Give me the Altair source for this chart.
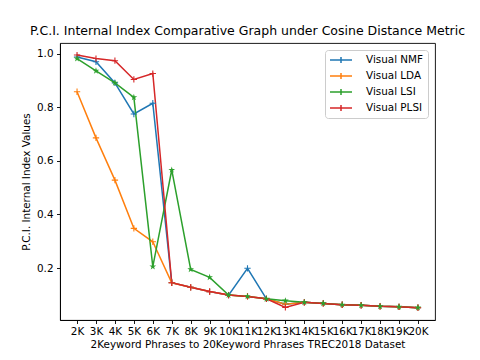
import altair as alt
import pandas as pd

categories = ["2K", "3K", "4K", "5K", "6K", "7K", "8K", "9K", "10K", "11K",
              "12K", "13K", "14K", "15K", "16K", "17K", "18K", "19K", "20K"]
series_names = ["Visual NMF", "Visual LDA", "Visual LSI", "Visual PLSI"]
nmf = [0.988, 0.970, 0.891, 0.775, 0.815, 0.145, 0.128, 0.112, 0.099, 0.199,
       0.085, 0.065, 0.072, 0.068, 0.063, 0.061, 0.057, 0.055, 0.052]
lda = [0.858, 0.686, 0.528, 0.348, 0.298, 0.145, 0.128, 0.112, 0.099, 0.094,
       0.085, 0.065, 0.072, 0.068, 0.063, 0.061, 0.057, 0.055, 0.052]
lsi = [0.982, 0.936, 0.891, 0.837, 0.205, 0.566, 0.195, 0.165, 0.099, 0.094,
       0.085, 0.078, 0.072, 0.068, 0.063, 0.061, 0.057, 0.055, 0.052]
plsi = [0.995, 0.982, 0.974, 0.904, 0.926, 0.145, 0.128, 0.112, 0.099, 0.094,
        0.085, 0.053, 0.072, 0.068, 0.063, 0.061, 0.057, 0.055, 0.052]
colors = ["#1f77b4", "#ff7f0e", "#2ca02c", "#d62728"]
y_ticks = [0.2, 0.4, 0.6, 0.8, 1.0]

rows = []
for name, vals in zip(series_names, [nmf, lda, lsi, plsi]):
    for i, (c, v) in enumerate(zip(categories, vals)):
        rows.append({"cat": c, "value": v, "series": name, "idx": i})
df = pd.DataFrame(rows)

PLUS = "M-1,0L1,0M0,-1L0,1"
STAR = ("M0,-1L0.2245,-0.309L0.9511,-0.309L0.3633,0.118L0.5878,0.809L0,0.382"
        "L-0.5878,0.809L-0.3633,0.118L-0.9511,-0.309L-0.2245,-0.309Z")
FONT = "DejaVu Sans"

x_enc = alt.X("cat:N", sort=categories,
              scale=alt.Scale(type="point", padding=0.9),
              axis=alt.Axis(title="2Keyword Phrases to 20Keyword Phrases TREC2018 Dataset",
                            labelAngle=0, labelOverlap=False, labelPadding=3,
                            tickSize=3.5, titlePadding=3))
y_enc = alt.Y("value:Q",
              scale=alt.Scale(domain=[0.006, 1.040], nice=False, zero=False),
              axis=alt.Axis(title="P.C.I. Internal Index Values", values=y_ticks,
                            format=".1f", tickSize=3.5, labelPadding=3.5,
                            titlePadding=5))
color_scale = alt.Scale(domain=series_names, range=colors)

base = alt.Chart(df)

lines = base.mark_line(strokeWidth=1.5).encode(
    x=x_enc, y=y_enc,
    color=alt.Color("series:N", scale=color_scale,
                    legend=alt.Legend(title=None, orient="top-right", offset=7,
                                      symbolType="M-2.2,0L2.2,0M0,-0.6L0,0.6",
                                      symbolSize=100, symbolStrokeWidth=1.5,
                                      symbolOffset=6,
                                      labelOffset=19, padding=4, rowPadding=4,
                                      labelFontSize=10.4, labelFont=FONT,
                                      labelColor="black",
                                      strokeColor="#cccccc", fillColor="white",
                                      cornerRadius=3)),
)

plus_pts = base.transform_filter(alt.datum.series != "Visual LSI").mark_point(
    filled=False, strokeWidth=1.1, size=40, opacity=1, shape=PLUS
).encode(
    x=x_enc, y=y_enc,
    color=alt.Color("series:N", scale=color_scale, legend=None),
)

star_pts = base.transform_filter(alt.datum.series == "Visual LSI").mark_point(
    filled=True, size=50, shape=STAR, opacity=1
).encode(
    x=x_enc, y=y_enc,
    color=alt.Color("series:N", scale=color_scale, legend=None),
)

chart = alt.layer(lines, plus_pts, star_pts).properties(
    width=375, height=277,
    autosize=alt.AutoSizeParams(type="none"),
    padding={"left": 52, "top": 35, "right": 37, "bottom": 32},
    title=alt.Title("P.C.I. Internal Index Comparative Graph under Cosine Distance Metric",
                    fontSize=12.5, font=FONT, fontWeight="normal", color="black",
                    anchor="middle", frame="group", offset=6),
).configure_view(
    stroke="black", strokeWidth=0.9
).configure_axis(
    grid=False, domainColor="black", tickColor="black", labelColor="black",
    titleColor="black", labelFont=FONT, titleFont=FONT, labelFontSize=10.4,
    titleFontSize=10.4, titleFontWeight="normal", domainWidth=0.9, tickWidth=0.9
)

chart.save("out.html", embed_options={"renderer": "svg", "actions": False})
